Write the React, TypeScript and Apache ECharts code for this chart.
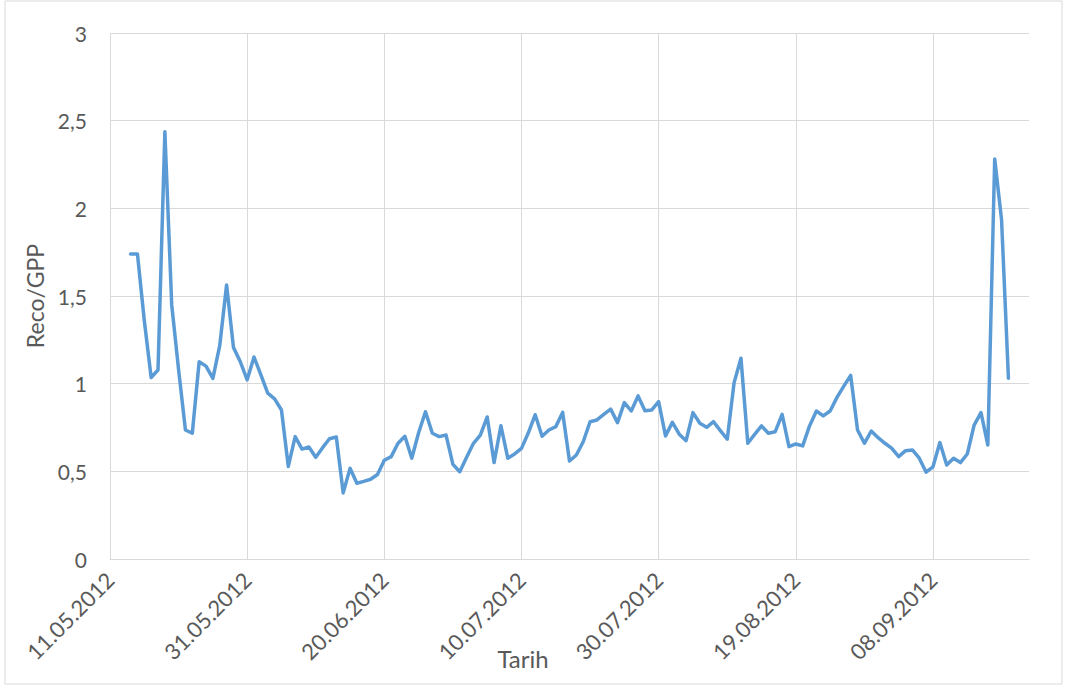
import React, { useEffect, useRef } from "react";
import * as echarts from "echarts";

// Axis start date (day 0) and first observation day
const axisStartDate = "2012-05-11";
const firstObsDay = 3; // 14.05.2012
const axisMaxDay = 134;
const tickIntervalDays = 20;

// Daily Reco/GPP values starting at 14.05.2012
const recoGpp: number[] = [
  1.74, 1.74, 1.36, 1.035, 1.078, 2.437, 1.449, 1.08, 0.736, 0.717,
  1.125, 1.1, 1.03, 1.217, 1.563, 1.207, 1.125, 1.022, 1.152, 1.05,
  0.946, 0.913, 0.85, 0.528, 0.698, 0.627, 0.639, 0.58, 0.635, 0.686,
  0.696, 0.377, 0.517, 0.432, 0.443, 0.455, 0.482, 0.563, 0.584, 0.66,
  0.7, 0.575, 0.72, 0.84, 0.717, 0.698, 0.707, 0.54, 0.498, 0.58,
  0.66, 0.707, 0.81, 0.55, 0.76, 0.575, 0.599, 0.631, 0.72, 0.823,
  0.7, 0.736, 0.755, 0.836, 0.559, 0.593, 0.669, 0.783, 0.793, 0.825,
  0.855, 0.778, 0.892, 0.844, 0.93, 0.846, 0.85, 0.897, 0.702, 0.779,
  0.712, 0.675, 0.835, 0.774, 0.751, 0.783, 0.732, 0.683, 1.006, 1.145,
  0.66, 0.711, 0.759, 0.717, 0.726, 0.825, 0.641, 0.656, 0.645, 0.759,
  0.844, 0.816, 0.844, 0.922, 0.986, 1.047, 0.736, 0.66, 0.73, 0.692,
  0.66, 0.631, 0.584, 0.618, 0.622, 0.575, 0.495, 0.526, 0.664, 0.536,
  0.575, 0.55, 0.599, 0.764, 0.835, 0.65, 2.281, 1.934, 1.031,
];

const yTicks = { min: 0, max: 3, interval: 0.5 };
const xTitle = "Tarih";
const yTitle = "Reco/GPP";

function dayLabel(day: number): string {
  const base = new Date(axisStartDate + "T00:00:00Z");
  const d = new Date(base.getTime() + day * 86400000);
  const dd = String(d.getUTCDate()).padStart(2, "0");
  const mm = String(d.getUTCMonth() + 1).padStart(2, "0");
  return `${dd}.${mm}.${d.getUTCFullYear()}`;
}

export default function App() {
  const ref = useRef<HTMLDivElement>(null);
  useEffect(() => {
    document.body.style.margin = "0";
    const chart = echarts.init(ref.current!, undefined, { renderer: "svg" });
    const font = "Lato, 'Open Sans', sans-serif";
    const data = recoGpp.map((v, i) => [firstObsDay + i, v]);
    chart.setOption({
      animation: false,
      backgroundColor: "#ffffff",
      textStyle: { fontFamily: font },
      grid: { left: 110, top: 33, right: 37, bottom: 132 },
      graphic: [
        {
          type: "rect",
          shape: { x: 5, y: 1, width: 1057, height: 683 },
          style: { fill: "none", stroke: "#d9d9d9", lineWidth: 1 },
          silent: true,
        },
        {
          type: "text",
          x: 523,
          y: 658,
          style: {
            text: xTitle,
            fontSize: 24,
            fill: "#595959",
            fontFamily: font,
            align: "center",
            verticalAlign: "middle",
          },
          silent: true,
        },
      ],
      xAxis: {
        type: "value",
        min: 0,
        max: axisMaxDay,
        interval: tickIntervalDays,
        axisLine: { show: true, lineStyle: { color: "#d9d9d9", width: 1 } },
        axisTick: { show: false },
        splitLine: { show: true, showMaxLine: false, lineStyle: { color: "#d9d9d9", width: 1 } },
        axisLabel: {
          rotate: 45,
          margin: 17,
          fontSize: 22,
          color: "#595959",
          fontFamily: font,
          showMaxLabel: false,
          formatter: (v: number) => (v % tickIntervalDays === 0 ? dayLabel(v) : ""),
        },
      },
      yAxis: {
        type: "value",
        min: yTicks.min,
        max: yTicks.max,
        interval: yTicks.interval,
        name: yTitle,
        nameLocation: "middle",
        nameGap: 63,
        nameRotate: 90,
        nameTextStyle: { fontSize: 23, color: "#595959", fontFamily: font },
        axisLine: { show: false },
        axisTick: { show: false },
        splitLine: { show: true, lineStyle: { color: "#d9d9d9", width: 1 } },
        axisLabel: {
          margin: 23,
          fontSize: 21,
          color: "#595959",
          fontFamily: font,
          formatter: (v: number) => String(v).replace(".", ","),
        },
      },
      series: [
        {
          type: "line",
          data,
          showSymbol: false,
          symbol: "none",
          lineStyle: { color: "#5b9bd5", width: 3.5, join: "round", cap: "round" },
          itemStyle: { color: "#5b9bd5" },
        },
      ],
    });
    return () => chart.dispose();
  }, []);
  return (
    <div
      ref={ref}
      style={{ position: "fixed", left: 0, top: 0, width: 1066, height: 691, background: "#fff" }}
    />
  );
}
